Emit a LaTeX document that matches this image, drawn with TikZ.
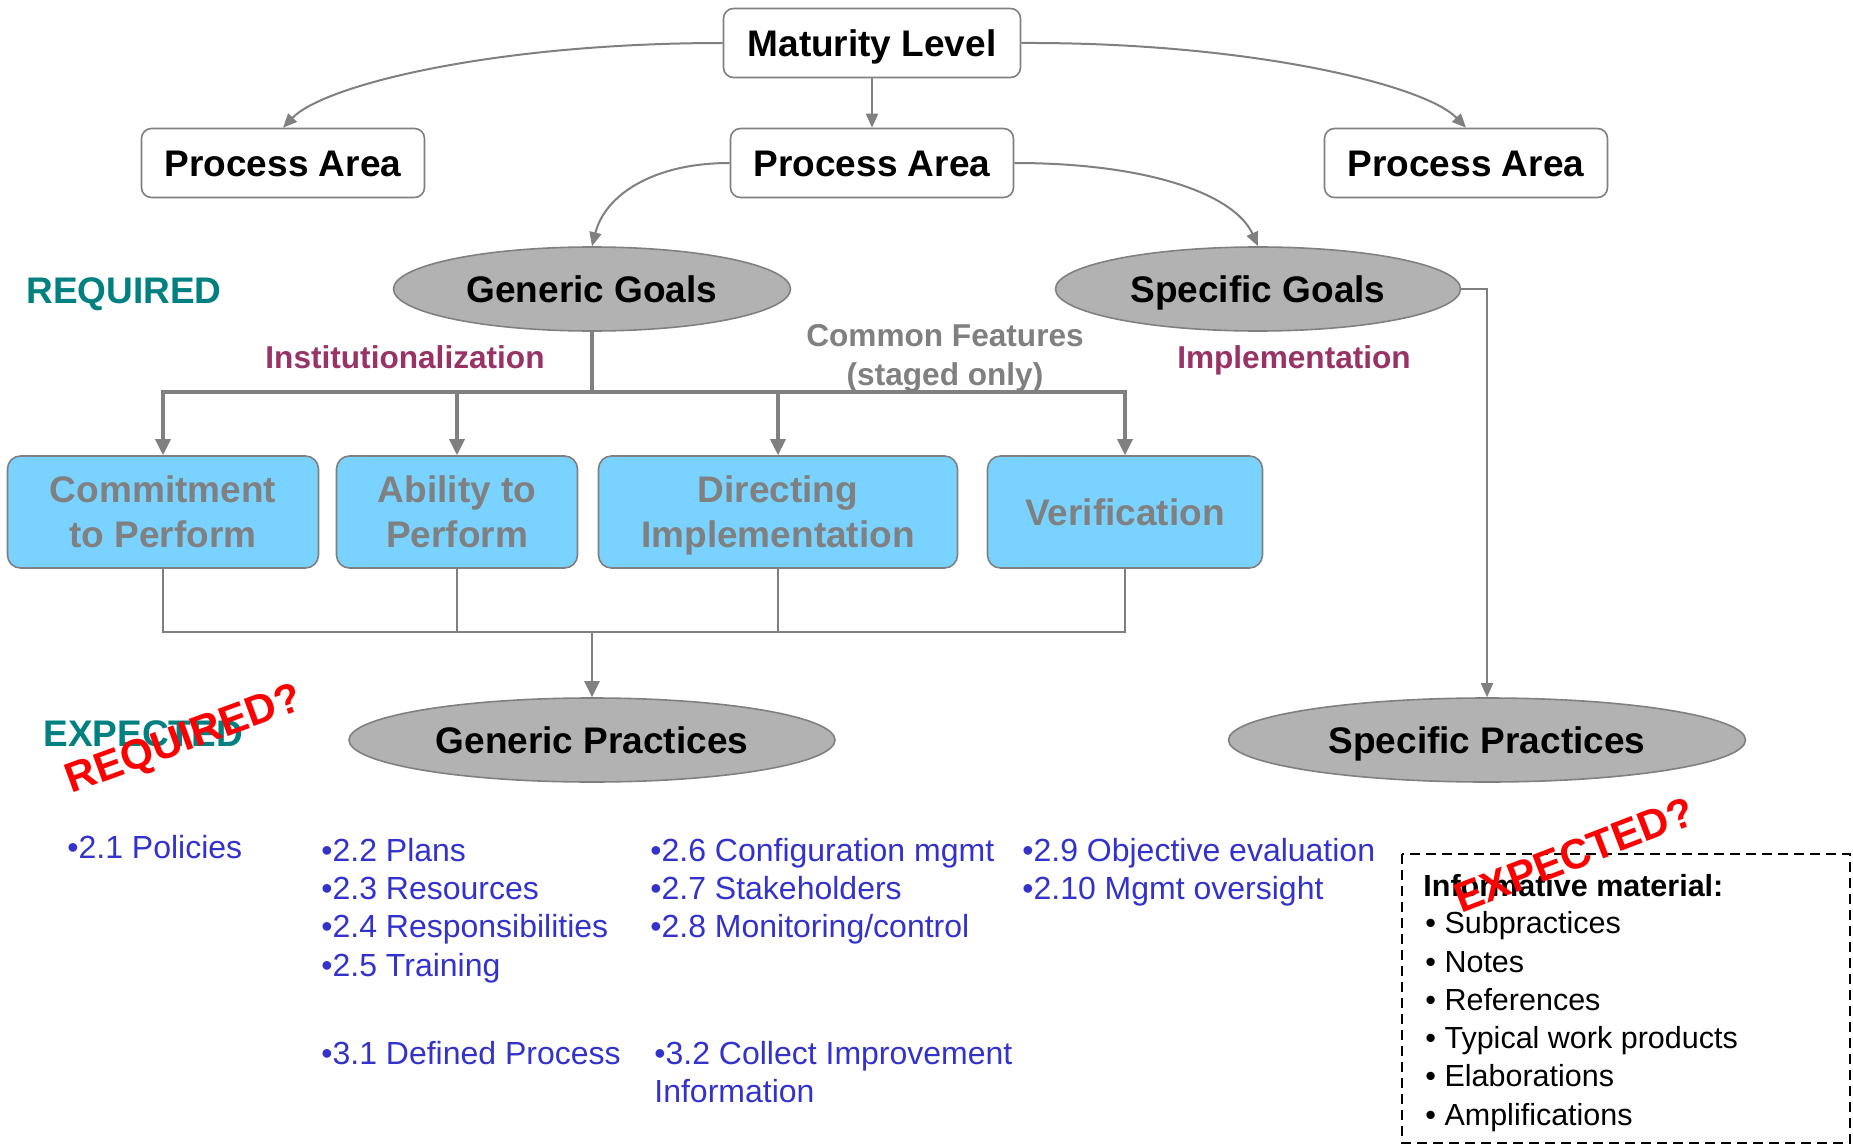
\documentclass[tikz,border=0pt]{standalone}
\usepackage{fontspec}
\setmainfont{Liberation Sans}
\usetikzlibrary{shapes.geometric,arrows.meta}
\definecolor{lgray}{HTML}{808080}
\definecolor{gfill}{HTML}{B2B2B2}
\definecolor{cyanbox}{HTML}{79D2FF}
\definecolor{tealc}{HTML}{008080}
\definecolor{maroonc}{HTML}{993366}
\definecolor{bluec}{HTML}{3333CC}
\begin{document}
\begin{tikzpicture}[x=0.5pt,y=0.5pt,
  wbox/.style={draw=lgray, line width=0.8pt, rounded corners=5pt, fill=white,
    minimum height=34.5pt, inner sep=0pt,
    font=\bfseries\fontsize{18.5}{22}\selectfont, text height=13.25pt, text depth=0pt},
  cbox/.style={draw=lgray, line width=0.8pt, rounded corners=6.5pt, fill=cyanbox,
    minimum height=56pt, inner sep=0pt, align=center, text=lgray,
    font=\bfseries\fontsize{18.5}{22.5}\selectfont, text depth=0pt},
  goal/.style={ellipse, draw=lgray, line width=0.8pt, fill=gfill, minimum height=42pt,
    inner sep=0pt, font=\bfseries\fontsize{18.5}{22}\selectfont,
    text height=13.25pt, text depth=0pt},
  conn/.style={draw=lgray, line width=1pt, -{Triangle[length=7pt,width=6pt]}},
  branch/.style={draw=lgray, line width=1.6pt},
  brarrow/.style={draw=lgray, line width=1.6pt, -{Triangle[length=8pt,width=7.5pt]}},
  thinline/.style={draw=lgray, line width=0.8pt},
  lbl/.style={inner sep=0pt, text depth=0pt},
  big/.style={lbl, font=\bfseries\fontsize{18.5}{22}\selectfont, text height=13.25pt},
  mid/.style={lbl, font=\bfseries\fontsize{15.8}{19}\selectfont, text height=11.3pt},
  blist/.style={lbl, anchor=west, text=bluec, font=\fontsize{16}{19}\selectfont, text height=11.46pt},
  infot/.style={lbl, anchor=west, text=black, font=\fontsize{15.25}{19}\selectfont, text height=10.92pt},
  redq/.style={lbl, text=red, font=\bfseries\fontsize{21}{24}\selectfont, text height=15.04pt}
]
\useasboundingbox (0,0) rectangle (1853,-1145);
\fill[white] (0,0) rectangle (1853,-1145);

% top level
\node[wbox, minimum width=148.5pt] (ml) at (872,-43) {Maturity Level};
\node[wbox, minimum width=141.5pt] (pa1) at (283,-163) {Process Area};
\node[wbox, minimum width=141.5pt] (pa2) at (872,-163) {Process Area};
\node[wbox, minimum width=141.5pt] (pa3) at (1466,-163) {Process Area};

% goals
\node[goal, minimum width=198.5pt] (gg) at (592,-289) {Generic Goals};
\node[goal, minimum width=202.5pt] (sg) at (1258,-289) {Specific Goals};

% common feature boxes
\node[cbox, minimum width=155.5pt] (cmt) at (163,-512) {Commitment\\to Perform};
\node[cbox, minimum width=120.5pt] (abl) at (457,-512) {Ability to\\Perform};
\node[cbox, minimum width=179.5pt] (dir) at (778,-512) {Directing\\Implementation};
\node[cbox, minimum width=137.5pt] (vrf) at (1125,-512) {Verification};

% practices
\node[goal, minimum width=243pt] (gp) at (592,-740) {Generic Practices};
\node[goal, minimum width=258.5pt] (sp) at (1487,-740) {Specific Practices};

% labels
\node[big, anchor=west, text=tealc] (req) at (26,-290) {REQUIRED};
\node[big, anchor=west, text=tealc] (exp) at (43,-733) {EXPECTED};
\node[mid, text=maroonc] (inst) at (405,-357) {Institutionalization};
\node[mid, text=maroonc] (impl) at (1294,-357) {Implementation};
\node[inner sep=0pt, align=center, text=lgray, text depth=0pt, font=\bfseries\fontsize{15.8}{19.5}\selectfont] (cf) at (945,-355) {Common Features\\(staged only)};

% connectors top
\draw[conn] (ml.south) -- (pa2.north);
\draw[conn] (ml.west) .. controls (494,-43) and (324,-85) .. (pa1.north);
\draw[conn] (ml.east) .. controls (1250,-42) and (1425,-85) .. (pa3.north);
\draw[conn] (pa2.west) .. controls (653,-163) and (605,-195) .. (gg.north);
\draw[conn] (pa2.east) .. controls (1150,-163) and (1235,-195) .. (sg.north);

% branch from generic goals
\coordinate (busA) at (592,-392);
\draw[branch] (gg.south) -- (busA);
\draw[brarrow] (busA) -| (cmt.north);
\draw[brarrow] (busA) -| (abl.north);
\draw[brarrow] (busA) -| (dir.north);
\draw[brarrow] (busA) -| (vrf.north);

% collector to generic practices
\coordinate (busB) at (592,-632);
\draw[thinline] (cmt.south) |- (busB);
\draw[thinline] (vrf.south) |- (busB);
\draw[thinline] (abl.south) -- (abl.south |- busB);
\draw[thinline] (dir.south) -- (dir.south |- busB);
\draw[brarrow, line width=1.2pt] (busB) -- (gp.north);

% specific goals to specific practices
\draw[conn, line width=0.9pt] (sg.east) -| (sp.north);

% generic practice lists
\node[blist] (p21) at (67,-847) {•2.1 Policies};
\node[blist] (p22) at (321,-850) {•2.2 Plans};
\node[blist] (p23) at (321,-888) {•2.3 Resources};
\node[blist] (p24) at (321,-926.5) {•2.4 Responsibilities};
\node[blist] (p25) at (321,-965) {•2.5 Training};
\node[blist] (p26) at (650,-850) {•2.6 Configuration mgmt};
\node[blist] (p27) at (650,-888) {•2.7 Stakeholders};
\node[blist] (p28) at (650,-926.5) {•2.8 Monitoring/control};
\node[blist] (p29) at (1022,-850) {•2.9 Objective evaluation};
\node[blist] (p210) at (1022,-888) {•2.10 Mgmt oversight};
\node[blist] (p31) at (321,-1053) {•3.1 Defined Process};
\node[blist] (p32) at (654,-1053) {•3.2 Collect Improvement};
\node[blist] (p32b) at (654,-1091) {Information};

% informative material box
\draw[black, line width=1pt, dash pattern=on 5pt off 3pt] (1402,-854) rectangle (1850,-1143);
\node[infot, font=\bfseries\fontsize{15.25}{19}\selectfont] (inf) at (1423,-886) {Informative material:};
\node[infot] (i1) at (1425,-923) {• Subpractices};
\node[infot] (i2) at (1425,-962) {• Notes};
\node[infot] (i3) at (1425,-1000) {• References};
\node[infot] (i4) at (1425,-1038) {• Typical work products};
\node[infot] (i5) at (1425,-1076) {• Elaborations};
\node[infot] (i6) at (1425,-1115) {• Amplifications};

% red annotations
\node[redq, rotate=20] (rq) at (183,-737) {REQUIRED?};
\node[redq, rotate=21] (eq) at (1574,-854) {EXPECTED?};
\end{tikzpicture}
\end{document}
